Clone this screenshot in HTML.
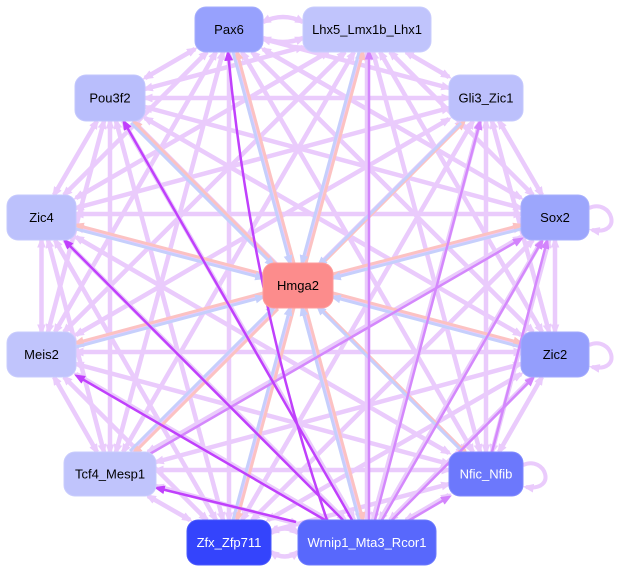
<!DOCTYPE html>
<html><head><meta charset="utf-8"><style>
html,body{margin:0;padding:0;background:#fff;}
svg{display:block;}
text{font-family:"Liberation Sans",Arial,sans-serif;font-size:13px;}
</style></head><body>
<svg width="620" height="572" viewBox="0 0 620 572" xmlns="http://www.w3.org/2000/svg">
<defs>
<marker id="lp" viewBox="0 0 10 8" refX="7" refY="4" markerWidth="11" markerHeight="9" markerUnits="userSpaceOnUse" orient="auto-start-reverse"><path d="M0,0L10,4L0,8z" fill="#eacbfc"/></marker>
<marker id="dp" viewBox="0 0 10 8" refX="7" refY="4" markerWidth="11" markerHeight="9" markerUnits="userSpaceOnUse" orient="auto-start-reverse"><path d="M0,0L10,4L0,8z" fill="#c040fc"/></marker>
<marker id="mp" viewBox="0 0 10 8" refX="7" refY="4" markerWidth="11" markerHeight="9" markerUnits="userSpaceOnUse" orient="auto-start-reverse"><path d="M0,0L10,4L0,8z" fill="#d384fc"/></marker>
<marker id="pk" viewBox="0 0 10 8" refX="7" refY="4" markerWidth="11" markerHeight="9" markerUnits="userSpaceOnUse" orient="auto-start-reverse"><path d="M0,0L10,4L0,8z" fill="#fcc2c2"/></marker>
<marker id="bl" viewBox="0 0 10 8" refX="7" refY="4" markerWidth="11" markerHeight="9" markerUnits="userSpaceOnUse" orient="auto-start-reverse"><path d="M0,0L10,4L0,8z" fill="#c6cffc"/></marker>
</defs>

<g stroke="#eacbfc" stroke-width="4.5" fill="none" marker-start="url(#lp)" marker-end="url(#lp)">
<line x1="195" y1="49" x2="145" y2="78"/>
<line x1="263" y1="39" x2="449" y2="88"/>
<line x1="207" y1="52" x2="64" y2="195"/>
<line x1="263" y1="49" x2="521" y2="198"/>
<line x1="216" y1="52" x2="55" y2="332"/>
<line x1="252" y1="52" x2="533" y2="332"/>
<line x1="223" y1="52" x2="116" y2="452"/>
<line x1="242" y1="52" x2="473" y2="452"/>
<line x1="229" y1="52" x2="229" y2="520"/>
<line x1="235" y1="52" x2="361" y2="520"/>
<line x1="303" y1="47" x2="145" y2="89"/>
<line x1="406" y1="52" x2="449" y2="77"/>
<line x1="328" y1="52" x2="76" y2="198"/>
<line x1="390" y1="52" x2="533" y2="195"/>
<line x1="345" y1="52" x2="64" y2="332"/>
<line x1="380" y1="52" x2="542" y2="332"/>
<line x1="354" y1="52" x2="123" y2="452"/>
<line x1="373" y1="52" x2="480" y2="452"/>
<line x1="361" y1="52" x2="235" y2="520"/>
<line x1="367" y1="52" x2="367" y2="520"/>
<line x1="145" y1="98" x2="449" y2="98"/>
<line x1="97" y1="121" x2="54" y2="195"/>
<line x1="145" y1="107" x2="521" y2="208"/>
<line x1="104" y1="121" x2="48" y2="332"/>
<line x1="145" y1="118" x2="521" y2="335"/>
<line x1="110" y1="121" x2="110" y2="452"/>
<line x1="133" y1="121" x2="464" y2="452"/>
<line x1="116" y1="121" x2="223" y2="520"/>
<line x1="123" y1="121" x2="354" y2="520"/>
<line x1="449" y1="108" x2="76" y2="208"/>
<line x1="499" y1="121" x2="542" y2="195"/>
<line x1="449" y1="119" x2="76" y2="335"/>
<line x1="492" y1="121" x2="549" y2="332"/>
<line x1="463" y1="121" x2="132" y2="452"/>
<line x1="486" y1="121" x2="486" y2="452"/>
<line x1="473" y1="121" x2="242" y2="520"/>
<line x1="480" y1="121" x2="373" y2="520"/>
<line x1="76" y1="214" x2="521" y2="214"/>
<line x1="41.5" y1="240" x2="41.5" y2="332"/>
<line x1="76" y1="227" x2="521" y2="345"/>
<line x1="48" y1="240" x2="104" y2="452"/>
<line x1="76" y1="237" x2="449" y2="453"/>
<line x1="55" y1="240" x2="216" y2="520"/>
<line x1="64" y1="240" x2="345" y2="520"/>
<line x1="521" y1="227" x2="76" y2="345"/>
<line x1="555" y1="240" x2="555" y2="332"/>
<line x1="521" y1="237" x2="148" y2="452"/>
<line x1="549" y1="240" x2="492" y2="452"/>
<line x1="533" y1="240" x2="252" y2="520"/>
<line x1="542" y1="240" x2="380" y2="520"/>
<line x1="76" y1="352" x2="521" y2="352"/>
<line x1="54" y1="377" x2="97" y2="452"/>
<line x1="76" y1="364" x2="449" y2="464"/>
<line x1="64" y1="377" x2="207" y2="520"/>
<line x1="76" y1="374" x2="328" y2="520"/>
<line x1="521" y1="364" x2="156" y2="462"/>
<line x1="542" y1="377" x2="499" y2="452"/>
<line x1="521" y1="374" x2="268" y2="520"/>
<line x1="533" y1="377" x2="390" y2="520"/>
<line x1="156" y1="470" x2="449" y2="470"/>
<line x1="148" y1="496" x2="190" y2="520"/>
<line x1="156" y1="486" x2="298" y2="524"/>
<line x1="449" y1="484" x2="271" y2="531"/>
<line x1="449" y1="495" x2="406" y2="520"/>
<path d="M263,22 Q283,12 303,22"/>
<path d="M303,38 Q283,46 263,38"/>
<path d="M271,533 Q285,524 298,533"/>
<path d="M298,552 Q285,561 271,552"/>
</g>
<g stroke="#eacbfc" stroke-width="4" fill="none" marker-end="url(#lp)">
<path d="M589,208 C612,198 624,236 592,230"/>
<path d="M589,345 C612,335 624,373 592,367"/>
<path d="M523,465 C546,455 558,492 526,487"/>
</g>

<g stroke="#fcc2c2" stroke-width="3" fill="none" marker-end="url(#pk)">
<line x1="294" y1="263" x2="237" y2="52"/>
<line x1="306" y1="263" x2="363" y2="52"/>
<line x1="276" y1="264" x2="134" y2="122"/>
<line x1="322" y1="264" x2="464" y2="122"/>
<line x1="263" y1="274" x2="76" y2="225"/>
<line x1="333" y1="274" x2="521" y2="225"/>
<line x1="263" y1="293" x2="76" y2="343"/>
<line x1="333" y1="293" x2="521" y2="343"/>
<line x1="278" y1="309" x2="134" y2="453"/>
<line x1="322" y1="309" x2="466" y2="453"/>
<line x1="294" y1="308" x2="237" y2="520"/>
<line x1="306" y1="308" x2="363" y2="520"/>
</g>
<g stroke="#c6cffc" stroke-width="3" fill="none" marker-end="url(#bl)">
<line x1="233" y1="52" x2="290" y2="263"/>
<line x1="359" y1="52" x2="302" y2="263"/>
<line x1="131" y1="123" x2="273" y2="265"/>
<line x1="461" y1="123" x2="319" y2="265"/>
<line x1="76" y1="229" x2="263" y2="278"/>
<line x1="521" y1="229" x2="333" y2="278"/>
<line x1="76" y1="347" x2="263" y2="297"/>
<line x1="521" y1="347" x2="333" y2="297"/>
<line x1="130" y1="451" x2="274" y2="307"/>
<line x1="462" y1="451" x2="318" y2="307"/>
<line x1="233" y1="520" x2="290" y2="308"/>
<line x1="359" y1="520" x2="302" y2="308"/>
</g>

<g stroke="#d488fc" stroke-width="2.5" fill="none" marker-end="url(#mp)">
<line x1="369" y1="520" x2="369" y2="52"/>
<line x1="375" y1="520" x2="480" y2="122"/>
<line x1="382" y1="520" x2="542" y2="241"/>
<line x1="392" y1="520" x2="533" y2="378"/>
<line x1="408" y1="521" x2="449" y2="497"/>
<line x1="148" y1="455" x2="521" y2="239"/>
<line x1="492" y1="452" x2="547" y2="241"/>
</g>
<g stroke="#c040fc" stroke-width="2.5" fill="none" marker-end="url(#dp)">
<line x1="352" y1="520" x2="124" y2="122"/>
<line x1="343" y1="520" x2="65" y2="241"/>
<line x1="325" y1="520" x2="77" y2="376"/>
<line x1="296" y1="522" x2="157" y2="488"/>
<path d="M327,520 Q252,300 228,53"/>
</g>

<g stroke-width="1">
<rect x="195" y="7" width="68" height="45" rx="11" fill="#97a1fd" stroke="#a4adfd"/>
<rect x="303" y="7" width="128" height="45" rx="11" fill="#c0c4fc" stroke="#c9ccfd"/>
<rect x="75" y="75" width="70" height="46" rx="11" fill="#b9befc" stroke="#c3c7fd"/>
<rect x="449" y="75" width="74" height="46" rx="11" fill="#bcc0fc" stroke="#c5c9fd"/>
<rect x="7" y="195" width="69" height="45" rx="11" fill="#bcc1fc" stroke="#c5c9fd"/>
<rect x="521" y="195" width="68" height="45" rx="11" fill="#9ca6fc" stroke="#a8b0fd"/>
<rect x="7" y="332" width="69" height="45" rx="11" fill="#c0c4fc" stroke="#c9ccfd"/>
<rect x="521" y="332" width="68" height="45" rx="11" fill="#949efc" stroke="#a2aafd"/>
<rect x="64" y="452" width="92" height="44" rx="11" fill="#c0c4fc" stroke="#c9ccfd"/>
<rect x="449" y="452" width="74" height="44" rx="11" fill="#6c78fc" stroke="#8089fd"/>
<rect x="187" y="520" width="84" height="45" rx="11" fill="#3444fc" stroke="#4a58fc"/>
<rect x="298" y="520" width="138" height="45" rx="11" fill="#5868fc" stroke="#6b79fd"/>
<rect x="263" y="263" width="70" height="45" rx="11" fill="#fc8c8c" stroke="#fd9c9c"/>
</g>
<g text-anchor="middle" fill="#000">
<text x="229" y="34">Pax6</text>
<text x="367" y="34">Lhx5_Lmx1b_Lhx1</text>
<text x="110" y="102.5">Pou3f2</text>
<text x="486" y="102.5">Gli3_Zic1</text>
<text x="41.5" y="222">Zic4</text>
<text x="555" y="222">Sox2</text>
<text x="41.5" y="359">Meis2</text>
<text x="555" y="359">Zic2</text>
<text x="110" y="478.5">Tcf4_Mesp1</text>
<text x="486" y="478.5" fill="#fff">Nfic_Nfib</text>
<text x="229" y="547" fill="#fff">Zfx_Zfp711</text>
<text x="367" y="547" fill="#fff">Wrnip1_Mta3_Rcor1</text>
<text x="298" y="290">Hmga2</text>
</g>
</svg>
</body></html>
